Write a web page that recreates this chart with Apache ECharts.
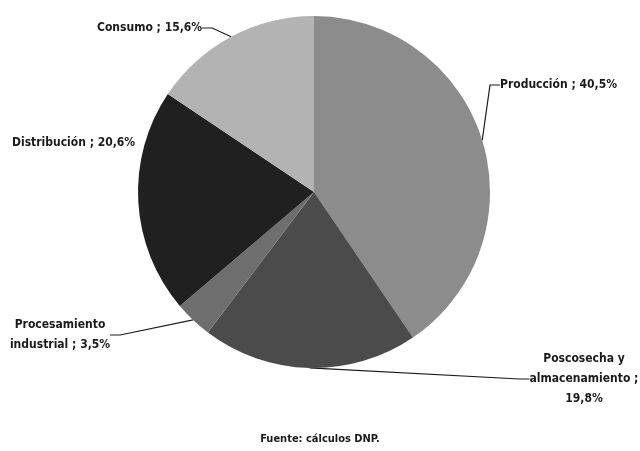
<!DOCTYPE html>
<html>
<head>
<meta charset="utf-8">
<script src="https://cdn.jsdelivr.net/npm/echarts@6/dist/echarts.min.js"></script>
<style>html,body{margin:0;padding:0;background:#fff;}#c{width:640px;height:451px;}</style>
</head>
<body>
<div id="c"></div>
<script>
var categories = ['Producción', 'Poscosecha y\nalmacenamiento', 'Procesamiento\nindustrial', 'Distribución', 'Consumo'];
var values = [40.5, 19.8, 3.5, 20.6, 15.6];
var sourceText = 'Fuente: cálculos DNP.';

var colors = ['#8c8c8c', '#4b4b4b', '#6e6e6e', '#202020', '#b3b3b3'];
var separators = [' ; ', ' ;\n', ' ; ', ' ; ', ' ; '];
var labelPos = [
  {x: 500, y: 85, align: 'left'},
  {x: 584, y: 379, align: 'center'},
  {x: 60, y: 335, align: 'center'},
  {x: 12, y: 143, align: 'left'},
  {x: 97, y: 28, align: 'left'}
];
var showLine = [true, true, true, false, true];

var chart = echarts.init(document.getElementById('c'));
var font = '"DejaVu Sans Condensed", "Liberation Sans Narrow", sans-serif';
chart.setOption({
  animation: false,
  title: {
    text: sourceText,
    left: 'center',
    top: 429,
    textStyle: {fontFamily: font, fontSize: 11, fontWeight: 'bold', color: '#1a1a1a'}
  },
  series: [{
    type: 'pie',
    center: [314, 192],
    radius: 176,
    startAngle: 90,
    clockwise: true,
    avoidLabelOverlap: false,
    itemStyle: {borderWidth: 0},
    label: {
      show: true,
      position: 'outside',
      fontFamily: font,
      fontWeight: 'bold',
      fontSize: 12,
      lineHeight: 20,
      color: '#1a1a1a',
      formatter: function (p) {
        return p.name + separators[p.dataIndex] + p.value.toFixed(1).replace('.', ',') + '%';
      }
    },
    labelLine: {show: true, lineStyle: {color: '#1a1a1a', width: 1.2}, length: 10, length2: 10},
    labelLayout: function (p) {
      var lp = labelPos[p.dataIndex];
      return {x: lp.x, y: lp.y, align: lp.align, verticalAlign: 'middle'};
    },
    data: categories.map(function (c, i) {
      return {
        name: c,
        value: values[i],
        itemStyle: {color: colors[i]},
        labelLine: {show: showLine[i]},
        label: {align: labelPos[i].align}
      };
    })
  }]
});
</script>
</body>
</html>
